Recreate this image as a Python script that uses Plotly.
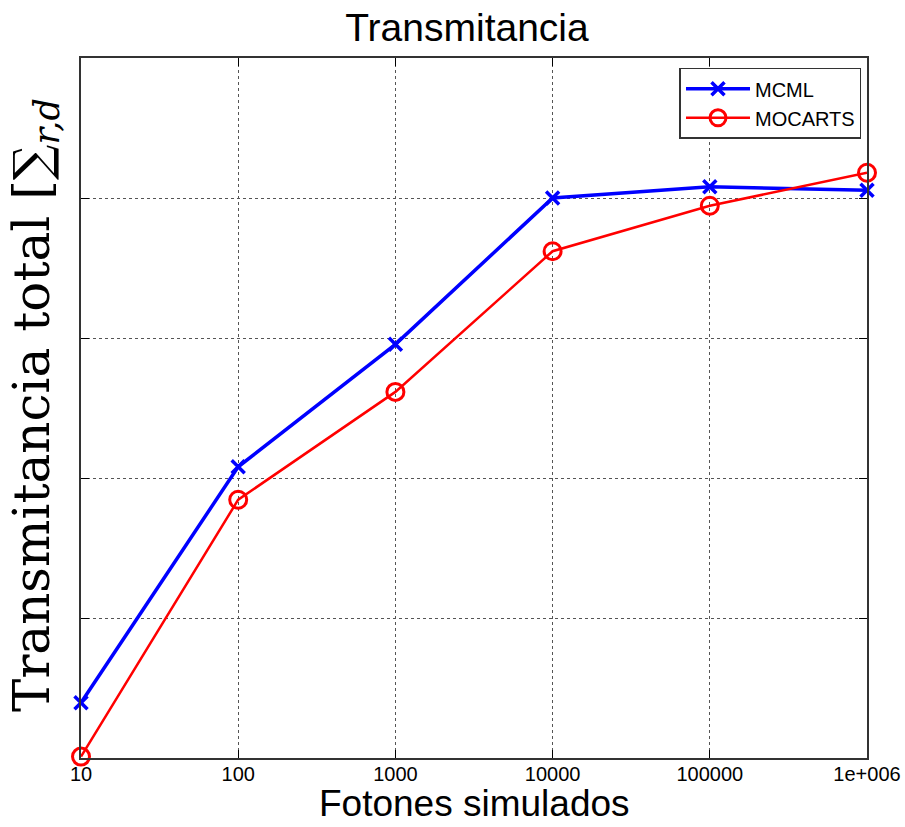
import plotly.graph_objects as go

fotones = [10, 100, 1000, 10000, 100000, 1000000]
tick_labels = ["10", "100", "1000", "10000", "100000", "1e+006"]
mcml = [0.079, 0.416, 0.591, 0.800, 0.816, 0.811]
mocarts = [0.002, 0.369, 0.523, 0.724, 0.789, 0.836]

fig = go.Figure()
fig.add_trace(go.Scatter(
    x=fotones, y=mcml, name="MCML", mode="lines+markers",
    line=dict(color="#0000ff", width=3.5),
    marker=dict(symbol="x-thin", size=13, line=dict(color="#0000ff", width=3.5), color="#0000ff"),
    cliponaxis=False,
))
fig.add_trace(go.Scatter(
    x=fotones, y=mocarts, name="MOCARTS", mode="lines+markers",
    line=dict(color="#ff0000", width=2.5),
    marker=dict(symbol="circle-open", size=17, line=dict(color="#ff0000", width=3), color="#ff0000"),
    cliponaxis=False,
))

fig.update_layout(
    width=905, height=827,
    margin=dict(l=81, r=38, t=58, b=69),
    paper_bgcolor="white", plot_bgcolor="white",
    font=dict(family="Liberation Sans, Arial", color="black"),
    title=dict(text="Transmitancia", x=0.516, xanchor="center", y=0.967, yanchor="middle",
               font=dict(size=39, family="Liberation Sans, Arial", color="black")),
    showlegend=True,
    legend=dict(x=0.993, xanchor="right", y=0.986, yanchor="top",
                bgcolor="white", bordercolor="#333", borderwidth=1.5,
                font=dict(size=20, family="Liberation Sans, Arial"),
                tracegroupgap=0, itemwidth=64),
    xaxis=dict(
        type="log", range=[1, 6], automargin=False,
        tickvals=fotones, ticktext=tick_labels,
        ticks="inside", ticklen=8, tickcolor="black",
        showline=True, linecolor="#333", linewidth=1.5, mirror="ticks",
        showgrid=True, gridcolor="#555", griddash="dot", gridwidth=1,
        zeroline=False, ticklabelstandoff=-3,
        tickfont=dict(size=20, family="Liberation Sans, Arial"),
    ),
    yaxis=dict(
        range=[0, 1], automargin=False,
        tickvals=[0, 0.2, 0.4, 0.6, 0.8, 1.0],
        showticklabels=False,
        ticks="inside", ticklen=8, tickcolor="black",
        showline=True, linecolor="#333", linewidth=1.5, mirror="ticks",
        showgrid=True, gridcolor="#555", griddash="dot", gridwidth=1,
        zeroline=False,
    ),
    annotations=[
        dict(
            text="Transmitancia total [∑<sub><i>r,d</i></sub>",
            textangle=-90, xref="paper", yref="paper",
            x=-0.058, y=0.505, xanchor="center", yanchor="middle", showarrow=False,
            font=dict(size=50, family="DejaVu Serif, Liberation Serif, serif", color="black"),
        ),
        dict(
            text="Fotones simulados", xref="paper", yref="paper",
            x=0.5, y=-0.0955, xanchor="center", yanchor="bottom", showarrow=False,
            borderpad=0,
            font=dict(size=37, family="Liberation Sans, Arial", color="black"),
        ),
    ],
)

fig.write_html("out.html")
